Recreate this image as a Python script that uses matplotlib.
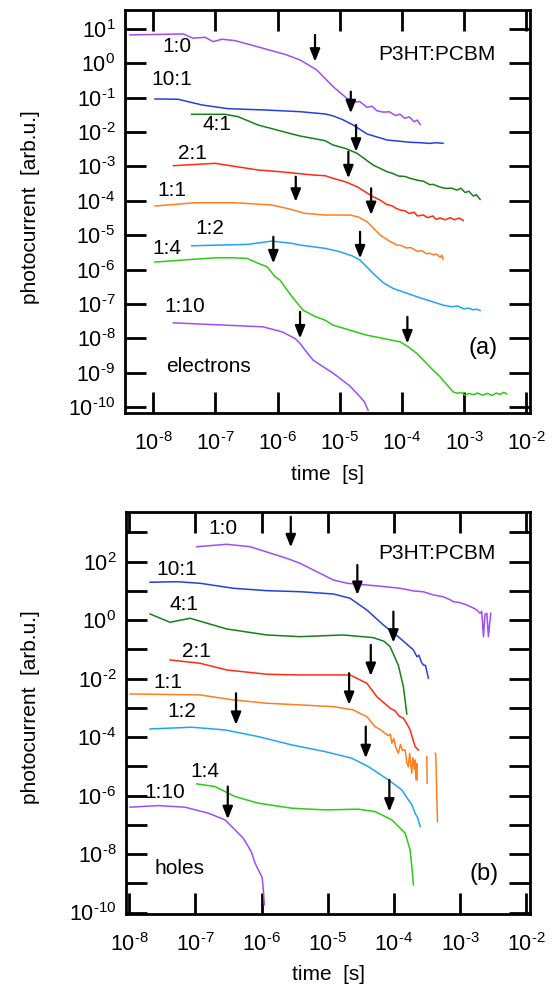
import numpy as np
import matplotlib
matplotlib.use('Agg')
import matplotlib.pyplot as plt
from matplotlib.ticker import FixedLocator, FuncFormatter, NullLocator

plt.rcParams['font.family'] = ['Liberation Sans', 'DejaVu Sans']
plt.rcParams['mathtext.default'] = 'regular'

# ---------------- data (log10 of time [s] and log10 of photocurrent) -------------
# (a) electrons
el_t_1_0 = [-8.375, -7.517, -7.361, -7.167, -7.039, -6.894, -6.684, -6.40, -6.14, -5.88, -5.638, -5.369,
            -5.106, -4.886, -4.75, -4.68, -4.56, -4.48, -4.40, -4.30, -4.20, -4.10, -4.03, -3.95, -3.88,
            -3.80, -3.75, -3.705]
el_i_1_0 = [0.825, 0.854, 0.729, 0.758, 0.630, 0.700, 0.659, 0.52, 0.389, 0.26, 0.098, -0.193,
            -0.679, -1.017, -1.13, -1.11, -1.28, -1.25, -1.38, -1.42, -1.41, -1.52, -1.48, -1.60, -1.56,
            -1.70, -1.65, -1.78]
el_t_10_1 = [-7.973, -7.602, -7.216, -6.797, -6.201, -5.638, -5.235, -5.106, -4.95, -4.784, -4.559, -4.237,
             -3.866, -3.70, -3.55, -3.45, -3.335]
el_i_10_1 = [-1.037, -1.046, -1.212, -1.320, -1.358, -1.407, -1.474, -1.530, -1.64, -1.794, -2.056, -2.231,
             -2.297, -2.31, -2.33, -2.31, -2.327]
el_t_4_1 = [-7.382, -6.845, -6.636, -6.314, -5.767, -5.638, -5.235, -5.106, -4.90, -4.720, -4.462, -4.237,
            -4.15, -4.05, -3.95, -3.866, -3.75, -3.65, -3.55, -3.496, -3.40, -3.30, -3.20, -3.109, -3.05,
            -2.98, -2.92, -2.85, -2.80, -2.739]
el_i_4_1 = [-1.483, -1.483, -1.552, -1.794, -2.056, -2.114, -2.251, -2.376, -2.48, -2.618, -2.958, -3.153,
            -3.20, -3.28, -3.29, -3.345, -3.40, -3.43, -3.53, -3.52, -3.59, -3.64, -3.63, -3.69, -3.63,
            -3.76, -3.72, -3.86, -3.82, -3.96]
el_t_2_1 = [-7.678, -7.006, -6.309, -5.960, -5.428, -5.235, -5.106, -4.90, -4.720, -4.462, -4.349, -4.25,
            -4.15, -4.10, -4.027, -3.95, -3.88, -3.80, -3.75, -3.657, -3.58, -3.50, -3.45, -3.383, -3.30,
            -3.22, -3.15, -3.08, -3.012]
el_i_2_1 = [-2.978, -2.909, -3.104, -3.153, -3.249, -3.269, -3.345, -3.45, -3.590, -3.881, -3.977, -4.10,
            -4.15, -4.21, -4.268, -4.29, -4.37, -4.33, -4.44, -4.41, -4.49, -4.44, -4.54, -4.50, -4.55,
            -4.49, -4.55, -4.50, -4.57]
el_t_1_1 = [-7.973, -7.329, -6.684, -6.090, -5.80, -5.557, -5.235, -4.833, -4.70, -4.559, -4.349, -4.20,
            -4.076, -4.0, -3.93, -3.85, -3.753, -3.68, -3.60, -3.55, -3.496, -3.44, -3.38, -3.355, -3.335]
el_i_1_1 = [-4.151, -4.055, -4.055, -4.122, -4.24, -4.364, -4.413, -4.413, -4.47, -4.608, -4.995, -5.17,
            -5.286, -5.30, -5.37, -5.36, -5.47, -5.45, -5.54, -5.52, -5.57, -5.55, -5.64, -5.58, -5.70]
el_t_1_2 = [-7.382, -6.475, -6.090, -5.767, -5.638, -5.235, -4.994, -4.80, -4.672, -4.462, -4.30, -4.140,
            -3.753, -3.335, -3.2, -3.1, -3.0, -2.92, -2.85, -2.80, -2.739]
el_i_1_2 = [-5.307, -5.266, -5.170, -5.237, -5.286, -5.382, -5.481, -5.60, -5.723, -6.110, -6.38, -6.547,
            -6.791, -7.033, -7.08, -7.06, -7.14, -7.12, -7.17, -7.15, -7.19]
el_t_1_4 = [-7.973, -7.382, -6.979, -6.732, -6.491, -6.309, -6.169, -6.040, -5.960, -5.767, -5.590, -5.40,
            -5.235, -5.106, -4.565, -4.027, -3.90, -3.758, -3.496, -3.383, -3.174, -3.10, -3.05, -2.98,
            -2.92, -2.85, -2.78, -2.70, -2.62, -2.55, -2.48, -2.42, -2.36, -2.31]
el_i_1_4 = [-5.781, -5.703, -5.656, -5.656, -5.674, -5.819, -5.918, -6.209, -6.305, -6.791, -7.178, -7.36,
            -7.469, -7.615, -7.906, -8.101, -8.24, -8.438, -8.924, -9.119, -9.556, -9.60, -9.57, -9.65,
            -9.60, -9.64, -9.59, -9.65, -9.60, -9.66, -9.59, -9.63, -9.57, -9.61]
el_t_1_10 = [-7.678, -6.845, -6.234, -5.928, -5.718, -5.638, -5.557, -5.428, -5.348, -5.106, -4.833, -4.672,
             -4.600, -4.543]
el_i_1_10 = [-7.548, -7.615, -7.664, -7.810, -8.002, -8.147, -8.342, -8.633, -8.730, -9.01, -9.39, -9.70,
             -9.85, -10.088]

# (b) holes
ho_t_1_0 = [-6.980, -6.526, -6.174, -5.619, -5.418, -5.165, -4.914, -4.70, -4.408, -4.20, -3.905, -3.70,
            -3.55, -3.401, -3.25, -3.15, -3.098, -3.00, -2.896, -2.80, -2.744, -2.694, -2.670, -2.644,
            -2.62, -2.593, -2.569, -2.55, -2.533]
ho_i_1_0 = [2.513, 2.595, 2.513, 2.116, 1.945, 1.658, 1.374, 1.26, 1.203, 1.16, 1.091, 1.00,
            0.97, 0.862, 0.80, 0.70, 0.632, 0.60, 0.520, 0.42, 0.349, 0.236, 0.30, -0.564,
            0.20, 0.236, -0.564, -0.1, 0.236]
ho_t_10_1 = [-7.687, -7.283, -6.930, -6.427, -5.921, -5.418, -4.914, -4.662, -4.408, -4.157, -3.905, -3.703,
             -3.65, -3.62, -3.58, -3.552, -3.52, -3.50, -3.477]
ho_i_10_1 = [1.296, 1.316, 1.262, 1.091, 1.009, 0.974, 0.896, 0.749, 0.349, -0.164, -0.619, -1.019,
             -1.25, -1.20, -1.45, -1.532, -1.55, -1.75, -1.986]
ho_t_4_1 = [-7.687, -7.384, -7.082, -6.526, -5.921, -5.418, -4.762, -4.309, -4.15, -4.056, -3.93, -3.855,
            -3.803]
ho_i_4_1 = [0.212, -0.072, 0.065, -0.301, -0.506, -0.564, -0.506, -0.598, -0.72, -0.906, -1.55, -2.274,
            -3.207]
ho_t_2_1 = [-7.384, -6.930, -6.526, -5.921, -5.418, -4.662, -4.408, -4.257, -4.056, -3.98, -3.92, -3.855,
            -3.80, -3.753, -3.678, -3.628]
ho_i_2_1 = [-1.361, -1.474, -1.703, -1.850, -1.874, -1.874, -2.157, -2.615, -3.012, -3.10, -3.28, -3.354,
            -3.55, -3.754, -4.325, -4.438]
ho_t_1_1 = [-7.989, -6.930, -6.427, -5.921, -4.914, -4.611, -4.50, -4.408, -4.283, -4.20, -4.132, -4.08,
            -4.05, -4.030, -4.00, -3.97, -3.930, -3.90, -3.87, -3.829, -3.80, -3.779, -3.76, -3.728,
            -3.71, -3.690, -3.678, -3.665, -3.652, -3.645,
            np.nan, -3.501, -3.495,
            np.nan, -3.375, -3.365, -3.340]
ho_i_1_1 = [-2.523, -2.557, -2.728, -2.841, -2.957, -3.07, -3.20, -3.30, -3.641, -3.75, -3.867, -3.95,
            -3.90, -4.209, -4.05, -4.35, -4.550, -4.25, -4.45, -4.438, -4.90, -5.009, -4.55, -5.234,
            -4.70, -5.10, -4.780, -5.463, -4.9, -5.46,
            np.nan, -4.667, -5.576,
            np.nan, -4.550, -4.60, -6.889]
ho_t_1_2 = [-7.687, -7.056, -6.552, -6.048, -5.543, -5.039, -4.635, -4.384, -4.082, -3.879, -3.779, -3.73,
            -3.678, -3.64, -3.602]
ho_i_1_2 = [-3.720, -3.662, -3.754, -3.983, -4.267, -4.496, -4.721, -5.009, -5.463, -5.805, -6.147, -6.30,
            -6.602, -6.75, -7.060]
ho_t_1_4 = [-6.980, -6.703, -6.401, -6.048, -5.543, -5.039, -4.536, -4.283, -4.030, -3.829, -3.753, -3.728,
            -3.703]
ho_i_1_4 = [-5.600, -5.692, -6.034, -6.260, -6.431, -6.489, -6.465, -6.547, -6.831, -7.286, -7.856, -8.427,
            -9.053]
ho_t_1_10 = [-7.989, -7.561, -7.157, -6.805, -6.552, -6.351, -6.28, -6.200, -6.15, -6.098, -6.023, -5.990,
             -5.973, -5.958]
ho_i_1_10 = [-6.397, -6.342, -6.397, -6.602, -6.831, -7.286, -7.45, -7.744, -7.95, -8.311, -8.653, -8.80,
             -9.224, -9.737]

# arrows: log10 time, log10 top, log10 tip
el_arrow_t = [-5.397, -4.821, -4.736, -4.860, -5.707, -4.494, -4.672, -6.068, -5.638, -3.910]
el_arrow_top = [0.825, -0.825, -1.794, -2.571, -3.299, -3.636, -4.899, -5.045, -7.228, -7.373]
el_arrow_tip = [0.048, -1.453, -2.571, -3.345, -4.026, -4.413, -5.674, -5.819, -8.002, -8.147]
ho_arrow_t = [-5.558, -4.551, -4.006, -4.348, -4.676, -6.386, -4.424, -6.511, -4.067]
ho_arrow_top = [3.538, 1.887, 0.291, -0.848, -1.815, -2.499, -3.641, -5.692, -5.463]
ho_arrow_tip = [2.492, 0.862, -0.769, -1.908, -2.899, -3.583, -4.721, -6.807, -6.547]

# ratio labels
ratio_labels = ['1:0', '10:1', '4:1', '2:1', '1:1', '1:2', '1:4', '1:10']
x_decades = list(range(-8, -1))

PURPLE = '#a24cf5'
BLUE = '#2242dd'
DGREEN = '#16801a'
RED = '#ff2a12'
ORANGE = '#ff7f1e'
LBLUE = '#1ea6f2'
LGREEN = '#2ccc14'
colors = [PURPLE, BLUE, DGREEN, RED, ORANGE, LBLUE, LGREEN, PURPLE]

el_curves = [(el_t_1_0, el_i_1_0), (el_t_10_1, el_i_10_1), (el_t_4_1, el_i_4_1), (el_t_2_1, el_i_2_1),
             (el_t_1_1, el_i_1_1), (el_t_1_2, el_i_1_2), (el_t_1_4, el_i_1_4), (el_t_1_10, el_i_1_10)]
ho_curves = [(ho_t_1_0, ho_i_1_0), (ho_t_10_1, ho_i_10_1), (ho_t_4_1, ho_i_4_1), (ho_t_2_1, ho_i_2_1),
             (ho_t_1_1, ho_i_1_1), (ho_t_1_2, ho_i_1_2), (ho_t_1_4, ho_i_1_4), (ho_t_1_10, ho_i_1_10)]

W, H = 553, 986
fig = plt.figure(figsize=(W / 100, H / 100), dpi=100)
ax1 = fig.add_axes([125 / W, 1 - 413 / H, 405 / W, 403 / H])
ax2 = fig.add_axes([126 / W, 1 - 914 / H, 404 / W, 402.3 / H])

FS = 15
HYPH = '\u2010'


def fmt(v, pos, every=1):
    e = int(round(np.log10(v)))
    if e % every:
        return ''
    s = (HYPH + str(-e)) if e < 0 else str(e)
    return r'$10^{%s}$' % s


def style(ax, ylim, ydec, yevery):
    ax.set_xscale('log')
    ax.set_yscale('log')
    ax.set_ylim(10 ** ylim[0], 10 ** ylim[1])
    ax.xaxis.set_major_locator(FixedLocator([10.0 ** e for e in x_decades]))
    ax.xaxis.set_minor_locator(NullLocator())
    ax.yaxis.set_major_locator(FixedLocator([10.0 ** e for e in ydec]))
    ax.yaxis.set_minor_locator(NullLocator())
    ax.xaxis.set_major_formatter(FuncFormatter(lambda v, p: fmt(v, p)))
    ax.yaxis.set_major_formatter(FuncFormatter(lambda v, p: fmt(v, p, yevery)))
    ax.tick_params(which='major', direction='in', length=15, width=2, top=True, right=True,
                   labelsize=15.5, pad=7)
    ax.tick_params(axis='x', pad=14)
    for s in ax.spines.values():
        s.set_linewidth(2)
    ax.set_xlabel('time  [s]', fontsize=FS)
    ax.set_ylabel('photocurrent  [arb.u.]', fontsize=FS)


def draw(ax, curves, at, atop, atip):
    for (t, i), c in zip(curves, colors):
        ax.plot(10 ** np.asarray(t, float), 10 ** np.asarray(i, float), color=c, lw=1.1)
    for x, y0, y1 in zip(at, atop, atip):
        ax.annotate('', xy=(10 ** x, 10 ** y1), xytext=(10 ** x, 10 ** y0),
                    arrowprops=dict(arrowstyle='-|>,head_length=0.75,head_width=0.3',
                                    mutation_scale=10, color='black', lw=1.6,
                                    shrinkA=0, shrinkB=0))


# ---- panel (a)
draw(ax1, el_curves, el_arrow_t, el_arrow_top, el_arrow_tip)
ax1.set_xlim(10 ** -8.456, 10 ** -1.936)
style(ax1, (-10.17, 1.55), list(range(-10, 2)), 1)
pos_a = [(-7.623, 0.485), (-7.704, -0.484), (-6.979, -1.794), (-7.366, -2.618), (-7.704, -3.686),
         (-7.087, -4.800), (-7.784, -5.382), (-7.490, -7.082)]
for lab, (x, y) in zip(ratio_labels, pos_a):
    ax1.text(10 ** x, 10 ** y, lab, ha='center', va='center', fontsize=FS)
ax1.text(10 ** -3.436, 10 ** 0.243, 'P3HT:PCBM', ha='center', va='center', fontsize=FS)
ax1.text(10 ** -7.114, 10 ** -8.828, 'electrons', ha='center', va='center', fontsize=FS)
ax1.text(10 ** -2.686, 10 ** -8.293, '(a)', ha='center', va='center', fontsize=FS + 2)
ax1.yaxis.set_label_coords(-0.21, 0.51)
ax1.xaxis.set_label_coords(0.5, -0.129)

# ---- panel (b)
draw(ax2, ho_curves, ho_arrow_t, ho_arrow_top, ho_arrow_tip)
ax2.set_xlim(10 ** -8.05, 10 ** -1.94)
style(ax2, (-10.05, 3.71), list(range(-10, 4)), 2)
pos_b = [(-6.587, 3.142), (-7.278, 1.719), (-7.176, 0.521), (-6.991, -1.075), (-7.410, -2.134),
         (-7.207, -3.126), (-6.855, -5.187), (-7.460, -5.905)]
for lab, (x, y) in zip(ratio_labels, pos_b):
    ax2.text(10 ** x, 10 ** y, lab, ha='center', va='center', fontsize=FS)
ax2.text(10 ** -3.350, 10 ** 2.287, 'P3HT:PCBM', ha='center', va='center', fontsize=FS)
ax2.text(10 ** -7.243, 10 ** -8.484, 'holes', ha='center', va='center', fontsize=FS)
ax2.text(10 ** -2.642, 10 ** -8.689, '(b)', ha='center', va='center', fontsize=FS + 2)
ax2.yaxis.set_label_coords(-0.213, 0.513)
ax2.xaxis.set_label_coords(0.5, -0.127)

fig.savefig('out.png', dpi=100)
